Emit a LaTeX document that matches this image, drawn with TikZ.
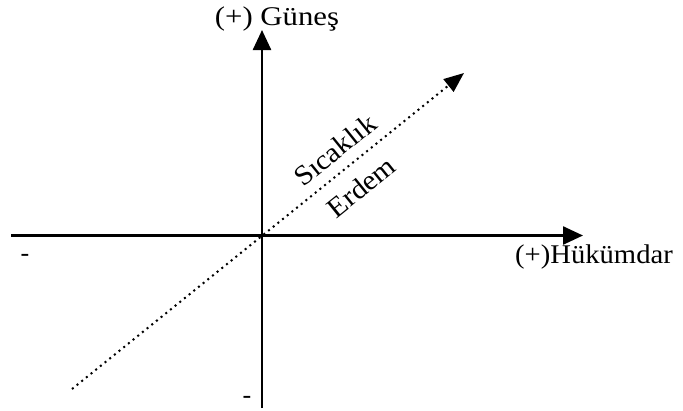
\documentclass[tikz,border=0pt]{standalone}
\usepackage{fontspec}
\setmainfont{Liberation Serif}
\newfontfamily\widefont[FakeStretch=1.14]{Liberation Serif}
\newfontfamily\midfont[FakeStretch=1.06]{Liberation Serif}
\usetikzlibrary{arrows.meta}
\begin{document}
\begin{tikzpicture}[x=1pt,y=-1pt,
  axis/.style={line width=2.5pt,-{Triangle[length=20pt,width=18pt]}},
  diag/.style={line width=2pt,dash pattern=on 2pt off 4pt,-{Triangle[length=20pt,width=16pt]}},
  lbl/.style={font=\fontsize{26}{30}\selectfont, inner sep=0pt},
  rlbl/.style={font=\midfont\fontsize{28}{30}\selectfont, inner sep=0pt, rotate=38.9},
  wlbl/.style={font=\widefont\fontsize{27}{30}\selectfont, inner sep=0pt},
  mlbl/.style={font=\midfont\fontsize{27}{30}\selectfont, inner sep=0pt}]
\useasboundingbox (0,0) rectangle (683,410);
\coordinate (xs) at (11,235.5);
\coordinate (xe) at (583,235.5);
\coordinate (ys) at (262,408);
\coordinate (ye) at (262,30);
\coordinate (ds) at (72,389);
\coordinate (de) at (464,73);
\draw[axis] (xs) -- (xe);
\draw[axis] (ys) -- (ye);
\draw[diag] (ds) -- (de);
\node[wlbl] (sun) at (277,19) {(+) Güneş};
\node[mlbl] (ruler) at (594,257) {(+)Hükümdar};
\node[rlbl] (heat) at (335,150) {Sıcaklık};
\node[rlbl] (virtue) at (361,187) {Erdem};
\node[lbl] (mx) at (25,258) {-};
\node[lbl] (my) at (247,400) {-};
\end{tikzpicture}
\end{document}
